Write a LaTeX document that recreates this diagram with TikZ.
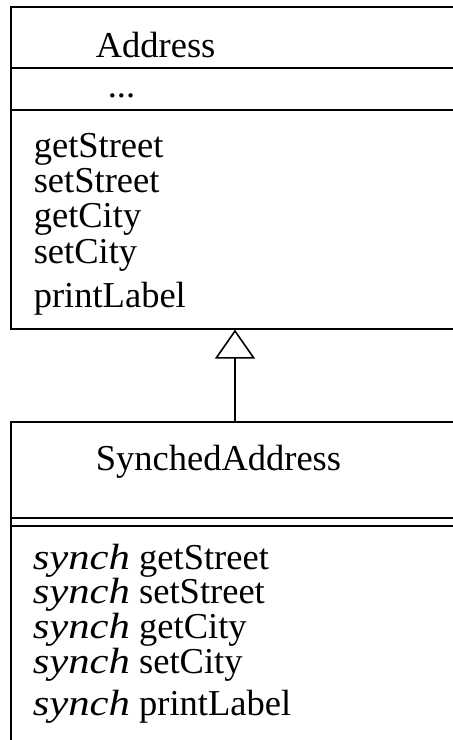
\documentclass[tikz,border=0pt]{standalone}
\usepackage{fontspec}
\setmainfont{Liberation Serif}
\usepackage{graphicx}
\usetikzlibrary{arrows.meta}

\tikzset{every picture/.style={line width=1.6pt}}
\tikzset{
	classbox/.style={draw, anchor=north west, inner sep=0pt, minimum width=480pt},
	member/.style={anchor=base west, inner sep=0pt, font=\fontsize{36.5}{36}\selectfont},
	inherit/.style={-{Triangle[open, length=29pt, width=40pt, line width=1.6pt]}}}
\newcommand{\synchkw}{\scalebox{1.17}[1]{\itshape synch}}

\begin{document}
\begin{tikzpicture}[x=1pt,y=1pt,yscale=-1]
	\useasboundingbox (0,0) rectangle (453,740);
	\clip (0,0) rectangle (453,740);
	
	%Class: Address
	\node [classbox, minimum height=322pt] (addr) at (10,6) {};
	\draw (addr.west |- 0,68) -- (addr.east |- 0,68);
	\draw (addr.west |- 0,110) -- (addr.east |- 0,110);
	% Text Node
	\node [member] (addrname) at (95,57) {Address};
	% Text Node
	\node [member] (addrattr) at (107,97) {...};
	% Text Node
	\node [member] (getstreet) at (33,157) {getStreet};
	\node [member] (setstreet) at (33,192) {setStreet};
	\node [member] (getcity) at (33,227) {getCity};
	\node [member] (setcity) at (33,263) {setCity};
	\node [member] (printlabel) at (33,307) {printLabel};
	
	%Class: SynchedAddress
	\node [classbox, minimum height=340pt] (synch) at (10,421) {};
	\draw (synch.west |- 0,518) -- (synch.east |- 0,518);
	\draw (synch.west |- 0,526) -- (synch.east |- 0,526);
	% Text Node
	\node [member] (synchname) at (95,470) {SynchedAddress};
	% Text Node
	\node [member] (sgetstreet) at (32,569) {\synchkw{} getStreet};
	\node [member] (ssetstreet) at (32,603) {\synchkw{} setStreet};
	\node [member] (sgetcity) at (32,638) {\synchkw{} getCity};
	\node [member] (ssetcity) at (32,673) {\synchkw{} setCity};
	\node [member] (sprintlabel) at (32,715) {\synchkw{} printLabel};
	
	%Generalization
	\coordinate (inh) at (235,0);
	\draw [inherit] (synch.north -| inh) -- (addr.south -| inh);
	
\end{tikzpicture}
\end{document}
